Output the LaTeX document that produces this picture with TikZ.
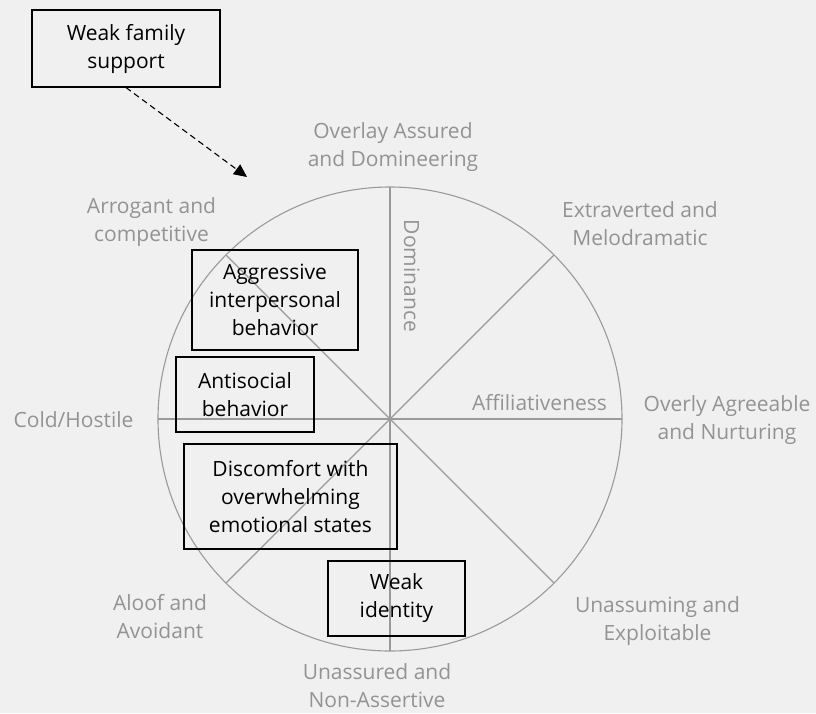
\documentclass[tikz,border=0pt]{standalone}
\usepackage{fontspec}
\setmainfont{Open Sans}
\usetikzlibrary{arrows.meta,calc}
\definecolor{bg}{HTML}{F0F0F0}
\definecolor{wheelgray}{HTML}{9A9A9A}
\definecolor{labelgray}{HTML}{939393}
\newcommand{\diagfont}{\fontsize{21}{28}\selectfont}
\tikzset{
  factor/.style={draw=black, line width=1.1pt, align=center, font=\diagfont, text=black, inner sep=0pt},
  octant/.style={align=center, font=\diagfont, text=labelgray, inner sep=0pt, anchor=base},
  wheel/.style={draw=wheelgray, line width=1.1pt},
  link/.style={draw=black, line width=1.1pt, dash pattern=on 6pt off 4pt, -{Triangle[length=13pt, width=12pt]}}
}
\begin{document}
\begin{tikzpicture}[x=1pt, y=-1pt]
  \fill[bg] (0,0) rectangle (816,713);
  \useasboundingbox (0,0) rectangle (816,713);

  % interpersonal circle with its four axes
  \coordinate (c) at (390,419);
  \draw[wheel] (c) circle (232pt);
  \foreach \a in {0,45,90,135} {
    \draw[wheel] ($(c)+(\a:232pt)$) -- ($(c)+(\a+180:232pt)$);
  }

  % octant labels (placed by the baseline of their last line)
  \node[octant] (oad) at (393,166) {Overlay Assured\\and Domineering};
  \node[octant] (ac)  at (151.5,241) {Arrogant and\\competitive};
  \node[octant] (em)  at (640,245) {Extraverted and\\Melodramatic};
  \node[octant] (ch)  at (73.5,427) {Cold/Hostile};
  \node[octant] (oan) at (727,439) {Overly Agreeable\\and Nurturing};
  \node[octant] (aa)  at (160,638) {Aloof and\\Avoidant};
  \node[octant] (ue)  at (657.5,640) {Unassuming and\\Exploitable};
  \node[octant] (una) at (377,707) {Unassured and\\Non-Assertive};

  % axis labels
  \node[octant] (aff) at (539.5,410) {Affiliativeness};
  \node[octant, rotate=-90] (dom) at (404,276) {Dominance};

  % factors
  \node[factor, minimum width=188pt, minimum height=77pt] (wfs) at (126,48.5) {Weak family\\support};
  \node[factor, minimum width=166pt, minimum height=100pt] (aib) at (275,300) {Aggressive\\interpersonal\\behavior};
  \node[factor, minimum width=138pt, minimum height=75pt] (asb) at (245,394.5) {Antisocial\\behavior};
  \node[factor, minimum width=213pt, minimum height=105pt] (dis) at (290.5,496.5) {Discomfort with\\overwhelming\\emotional states};
  \node[factor, minimum width=137pt, minimum height=75pt] (wid) at (396.5,598.5) {Weak\\identity};

  % influence of family support on the circle
  \coordinate (tip) at (247,177);
  \draw[link] (wfs.south) -- (tip);
\end{tikzpicture}
\end{document}
